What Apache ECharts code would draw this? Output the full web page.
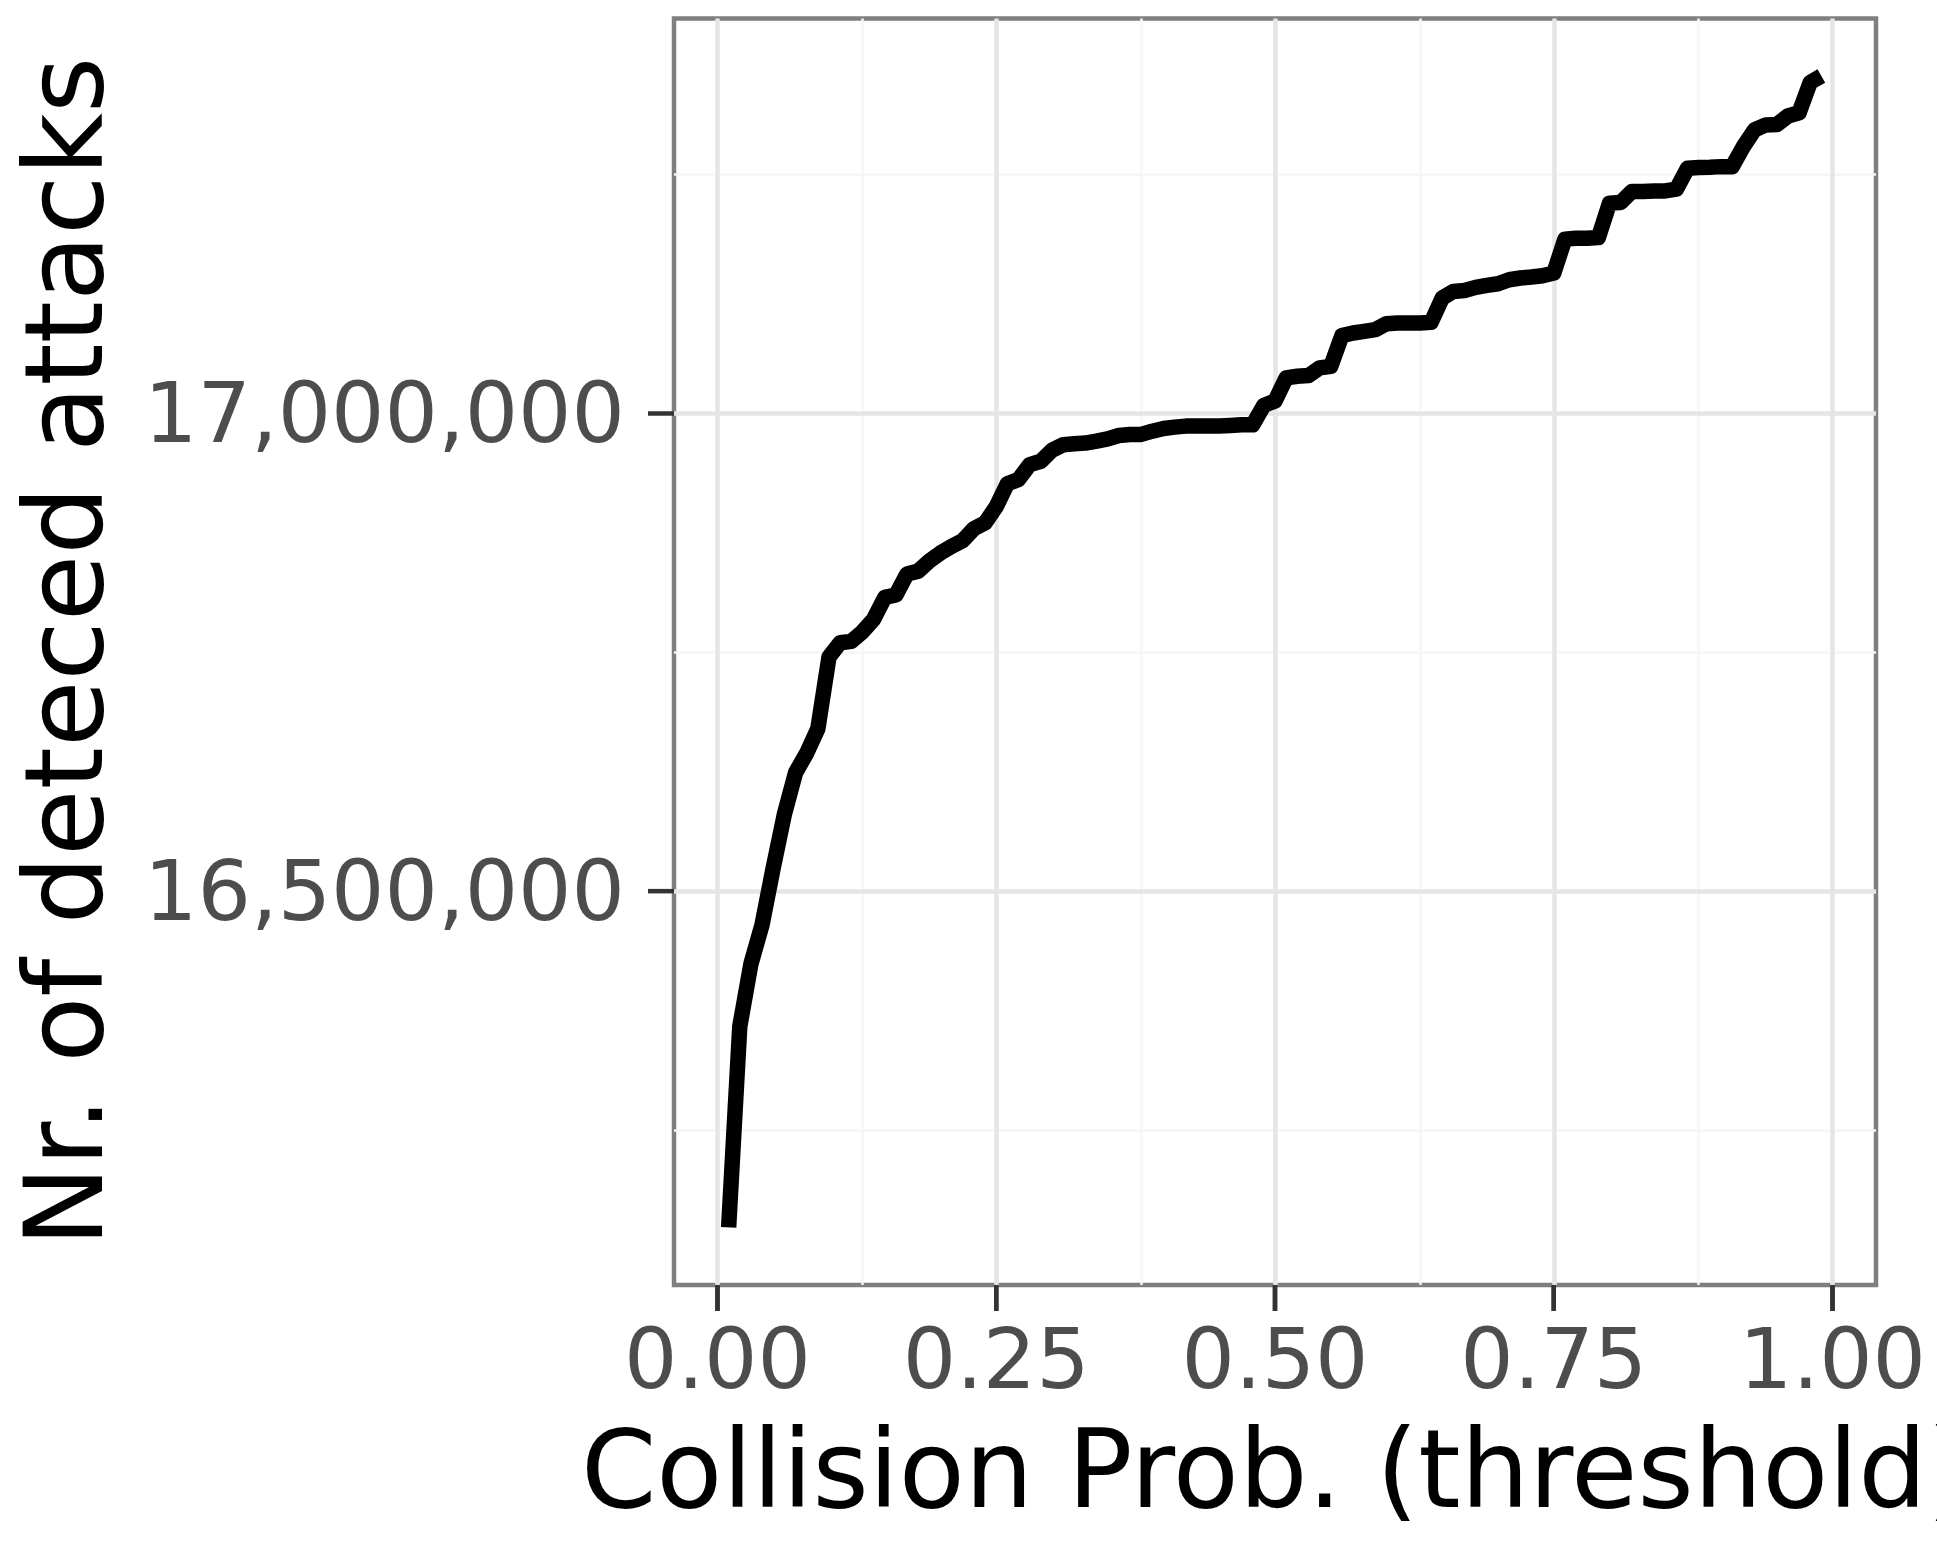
<!DOCTYPE html>
<html>
<head>
<meta charset="utf-8">
<script src="https://cdn.jsdelivr.net/npm/echarts@6/dist/echarts.min.js"></script>
<style>
html,body{margin:0;padding:0;background:#ffffff;}
#chart{width:1937px;height:1550px;}
</style>
</head>
<body>
<div id="chart"></div>
<script>
// ---- data ----
const thresholds = [
  0.01,0.02,0.03,0.04,0.05,0.06,0.07,0.08,0.09,0.10,
  0.11,0.12,0.13,0.14,0.15,0.16,0.17,0.18,0.19,0.20,
  0.21,0.22,0.23,0.24,0.25,0.26,0.27,0.28,0.29,0.30,
  0.31,0.32,0.33,0.34,0.35,0.36,0.37,0.38,0.39,0.40,
  0.41,0.42,0.43,0.44,0.45,0.46,0.47,0.48,0.49,0.50,
  0.51,0.52,0.53,0.54,0.55,0.56,0.57,0.58,0.59,0.60,
  0.61,0.62,0.63,0.64,0.65,0.66,0.67,0.68,0.69,0.70,
  0.71,0.72,0.73,0.74,0.75,0.76,0.77,0.78,0.79,0.80,
  0.81,0.82,0.83,0.84,0.85,0.86,0.87,0.88,0.89,0.90,
  0.91,0.92,0.93,0.94,0.95,0.96,0.97,0.98,0.99
];
const detectedAttacks = [
  16148000,16358500,16424000,16465000,16524500,16580500,16624000,16644500,16670000,16745000,
  16760000,16761500,16771500,16784500,16807500,16810000,16832000,16835000,16845500,16854000,
  16861000,16867000,16879500,16885500,16902500,16926500,16931000,16946500,16950000,16961500,
  16967300,16968300,16969000,16971100,16973500,16977000,16978100,16978100,16981500,16984300,
  16985700,16986800,16986800,16986800,16986800,16987500,16988200,16988200,17008500,17013000,
  17037300,17039000,17039700,17047700,17049400,17081500,17084300,17086000,17087800,17094000,
  17094800,17094800,17094800,17095400,17120900,17127800,17128700,17132000,17134100,17135800,
  17140000,17141800,17142800,17144200,17147000,17182500,17183500,17183500,17184200,17220200,
  17220800,17232300,17232300,17232800,17233000,17234800,17256700,17257400,17257700,17258400,
  17258400,17279300,17296800,17302000,17302400,17311400,17314800,17346600,17353200
];
const xTickValues = [0, 0.25, 0.5, 0.75, 1];
const xMinorGrid = [0.125, 0.375, 0.625, 0.875];
const yTickValues = [16500000, 17000000];
const yMinorGrid = [16250000, 16750000, 17250000];
const xTitle = 'Collision Prob. (threshold)';
const yTitle = 'Nr. of deteced attacks';

// ---- ggplot-like 5% expansion of the data range ----
const xLo = Math.min(...thresholds), xHi = Math.max(...thresholds);
const yLo = Math.min(...detectedAttacks), yHi = Math.max(...detectedAttacks);
const xPad = (xHi - xLo) * 0.05, yPad = (yHi - yLo) * 0.05;
const xMin = xLo - xPad, xMax = xHi + xPad, yMin = yLo - yPad, yMax = yHi + yPad;

const fmt = v => String(Math.round(v)).replace(/\B(?=(\d{3})+(?!\d))/g, ',');
const FONT = 'DejaVu Sans';
const TICK_LEN = 26;
const TICK_W = 4.5;

const majorStyle = {color: '#e5e5e5', width: 4.5, type: 'solid'};
const minorStyle = {color: '#f6f6f6', width: 2.5, type: 'solid'};
const gridLines = []
  .concat(xMinorGrid.map(v => ({xAxis: v, lineStyle: minorStyle})))
  .concat(yMinorGrid.map(v => ({yAxis: v, lineStyle: minorStyle})))
  .concat(xTickValues.map(v => ({xAxis: v, lineStyle: majorStyle})))
  .concat(yTickValues.map(v => ({yAxis: v, lineStyle: majorStyle})));

const chart = echarts.init(document.getElementById('chart'), null, {renderer: 'canvas'});
chart.setOption({
  animation: false,
  backgroundColor: '#ffffff',
  grid: {
    left: 674, top: 18.5, width: 1202, height: 1266.5,
    containLabel: false, outerBoundsMode: 'none',
    show: true, borderColor: '#7f7f7f', borderWidth: 4.5, backgroundColor: '#ffffff'
  },
  xAxis: {
    type: 'value', min: xMin, max: xMax,
    axisLine: {show: false},
    splitLine: {show: false},
    axisTick: {show: false},
    axisLabel: {show: true, customValues: xTickValues, formatter: v => v.toFixed(2),
      fontSize: 84, color: '#4d4d4d', fontFamily: FONT, margin: 39},
    name: xTitle, nameLocation: 'middle', nameGap: 140,
    nameTextStyle: {fontSize: 108, color: '#000000', fontFamily: FONT}
  },
  yAxis: {
    type: 'value', min: yMin, max: yMax,
    axisLine: {show: false},
    splitLine: {show: false},
    axisTick: {show: false},
    axisLabel: {show: true, customValues: yTickValues, formatter: v => '{v|' + fmt(v) + '}',
      margin: 49,
      rich: {v: {fontSize: 84, color: '#4d4d4d', fontFamily: FONT, padding: [14, 0, 0, 0]}}},
    name: yTitle, nameLocation: 'middle', nameGap: 546, nameRotate: 90,
    nameTextStyle: {fontSize: 108, color: '#000000', fontFamily: FONT}
  },
  series: [
    {
      type: 'line', data: [], z: 1, silent: true,
      markLine: {z: 1, silent: true, symbol: ['none', 'none'], label: {show: false}, animation: false, data: gridLines}
    },
    {
      type: 'line', z: 3,
      data: thresholds.map((x, i) => [x, detectedAttacks[i]]),
      symbol: 'none', showSymbol: false, smooth: false,
      lineStyle: {color: '#000000', width: 15.5, cap: 'butt', join: 'round'}
    },
    {
      // axis tick marks through the axis scales (custom series, unclipped)
      type: 'custom', coordinateSystem: 'cartesian2d', clip: false, silent: true,
      zlevel: 2, z: 20,
      dimensions: ['x', 'y', 'dir'],
      encode: {x: 0, y: 1},
      data: xTickValues.map(v => [v, yMin, 0]).concat(yTickValues.map(v => [xMin, v, 1])),
      renderItem: (params, api) => {
        const p = api.coord([api.value(0), api.value(1)]);
        const isX = api.value(2) === 0;
        return {
          type: 'rect',
          shape: isX ? {x: p[0] - TICK_W / 2, y: p[1], width: TICK_W, height: TICK_LEN}
                     : {x: p[0] - TICK_LEN, y: p[1] - TICK_W / 2, width: TICK_LEN, height: TICK_W},
          style: {fill: '#333333'}
        };
      }
    }
  ]
});

// same tick marks again as graphic elements, positioned through the chart's own axis scales
const xAxisPix = v => chart.convertToPixel({xAxisIndex: 0}, v);
const yAxisPix = v => chart.convertToPixel({yAxisIndex: 0}, v);
const bottomY = yAxisPix(yMin);
const tickGraphics = xTickValues.map(v => {
  const px = xAxisPix(v);
  return {type: 'line', silent: true, zlevel: 3, z: 30,
    shape: {x1: px, y1: bottomY + 1, x2: px, y2: bottomY + TICK_LEN},
    style: {stroke: '#333333', lineWidth: TICK_W}};
});
chart.setOption({graphic: {elements: tickGraphics}});
</script>
</body>
</html>
